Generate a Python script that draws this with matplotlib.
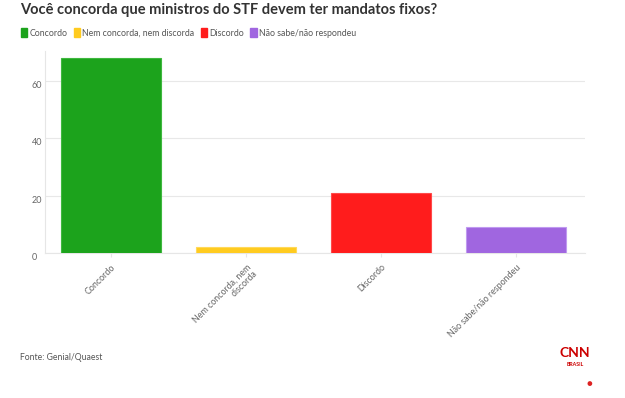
import matplotlib
matplotlib.use("Agg")
import matplotlib.pyplot as plt
from matplotlib.patches import Patch

categories = ["Concordo", "Nem concorda, nem discorda", "Discordo", "Não sabe/não respondeu"]
tick_labels = ["Concordo", "Nem concorda, nem\ndiscorda", "Discordo", "Não sabe/não respondeu"]
values = [68, 2, 21, 9]
colors = ["#1ca31c", "#ffcb1f", "#ff1c1c", "#a066e0"]
edge_colors = ["#3fb83f", "#ffd95a", "#ff4a4a", "#c09af0"]
yticks = [0, 20, 40, 60]

plt.rcParams['font.family'] = ['Lato', 'DejaVu Sans']

W, H = 625, 398
fig = plt.figure(figsize=(W / 100, H / 100), dpi=100)
ax = fig.add_axes([45 / W, 1 - 253 / H, 540 / W, (253 - 51) / H])

x = list(range(len(categories)))
ax.bar(x, values, width=0.74, color=colors, edgecolor=edge_colors, linewidth=0.8, zorder=3)
ax.set_xlim(-0.49, 3.51)
ax.set_ylim(0, 70.3)
ax.set_yticks(yticks)
ax.set_yticklabels([str(v) for v in yticks])
ax.grid(axis='y', color='#e8e8e8', linewidth=0.8, zorder=0)
for s in ['top', 'right']:
    ax.spines[s].set_visible(False)
ax.spines['left'].set_color('#e6e6e6')
ax.spines['bottom'].set_color('#e6e6e6')
ax.tick_params(axis='y', length=0, labelsize=6.5, labelcolor='#666666', pad=9.4)
for lab in ax.get_yticklabels():
    lab.set_horizontalalignment('left')
    lab.set_verticalalignment('top')
ax.set_xticks(x)
ax.set_xticklabels(tick_labels, rotation=45, ha='right', va='top', rotation_mode='anchor',
                   fontsize=6.4, color='#666666', linespacing=1.0)
ax.tick_params(axis='x', length=3, color='#e6e6e6', pad=4)

fig.text(20 / W, 1 - 10 / H, "Você concorda que ministros do STF devem ter mandatos fixos?",
         fontsize=10.5, fontweight='bold', color='#333333', va='center', ha='left')

handles = [Patch(facecolor=c, edgecolor=c, label=l) for c, l in zip(colors, categories)]
leg = fig.legend(handles=handles, loc='center left', bbox_to_anchor=(13 / W, 1 - 33 / H),
                 ncol=4, frameon=False, fontsize=6.3, handlelength=0.75, handleheight=1.1,
                 handletextpad=0.25, columnspacing=0.7, labelcolor='#555555')

fig.text(20 / W, 1 - 357 / H, "Fonte: Genial/Quaest", fontsize=6.2, color='#555555',
         va='center', ha='left')
fig.text(575 / W, 1 - 353 / H, "CNN", fontsize=10, fontweight='bold', color='#cc0000',
         va='center', ha='center')
fig.text(575 / W, 1 - 364 / H, "BRASIL", fontsize=3.8, fontweight='bold', color='#cc0000',
         va='center', ha='center')
fig.text(589 / W, 1 - 384 / H, "●", fontsize=7, color='#dd2222', va='center', ha='center')

fig.savefig("out.png", dpi=100, facecolor='white')
